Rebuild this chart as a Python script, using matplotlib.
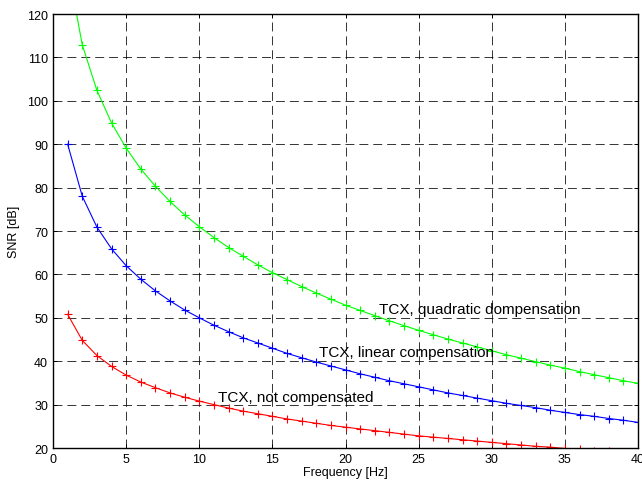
import matplotlib
matplotlib.use("Agg")
from matplotlib import pyplot as plt

plt.rcParams['font.family'] = ['Liberation Sans', 'DejaVu Sans']

freq = list(range(1, 41))

# TCX, not compensated
snr_none = [50.8, 44.8, 41.3, 38.8, 36.8, 35.2, 33.9, 32.7, 31.7, 30.8,
            30.0, 29.2, 28.5, 27.9, 27.3, 26.7, 26.2, 25.7, 25.2, 24.8,
            24.4, 24.0, 23.6, 23.2, 22.8, 22.5, 22.2, 21.9, 21.6, 21.3,
            21.0, 20.7, 20.4, 20.2, 19.9, 19.7, 19.4, 19.2, 19.0, 18.8]
# TCX, linear compensation
snr_lin = [90.0, 78.0, 70.9, 65.9, 62.0, 58.9, 56.2, 53.9, 51.8, 50.0,
           48.3, 46.8, 45.4, 44.2, 43.0, 41.8, 40.8, 39.8, 38.9, 38.0,
           37.1, 36.3, 35.5, 34.8, 34.1, 33.4, 32.7, 32.1, 31.5, 30.9,
           30.3, 29.8, 29.3, 28.7, 28.2, 27.7, 27.3, 26.8, 26.4, 25.9]
# TCX, quadratic compensation
snr_quad = [131.0, 112.9, 102.4, 94.9, 89.1, 84.3, 80.3, 76.8, 73.7, 71.0,
            68.5, 66.2, 64.2, 62.2, 60.4, 58.8, 57.2, 55.7, 54.3, 52.9,
            51.7, 50.5, 49.3, 48.2, 47.1, 46.1, 45.1, 44.2, 43.3, 42.4,
            41.5, 40.7, 39.9, 39.1, 38.4, 37.6, 36.9, 36.2, 35.5, 34.9]

labels = ['TCX, not compensated', 'TCX, linear compensation', 'TCX, quadratic dompensation']
label_pos = [(11.3, 31.7), (18.2, 42.2), (22.3, 52.0)]

fig = plt.figure(figsize=(6.42, 4.81), dpi=100)
ax = fig.add_axes([0.0826, 0.0665, 0.9112, 0.9023])

ax.plot(freq, snr_none, color=(1, 0, 0), lw=0.8, marker='+', ms=6, mew=0.8)
ax.plot(freq, snr_lin, color=(0, 0, 1), lw=0.8, marker='+', ms=6, mew=0.8)
ax.plot(freq, snr_quad, color=(0, 1, 0), lw=0.8, marker='+', ms=6, mew=0.8)

for txt, (x, y) in zip(labels, label_pos):
    ax.text(x, y, txt, fontsize=11, va='center', ha='left')

ax.set_xlim(0, 40)
ax.set_ylim(20, 120)
ax.set_xticks(range(0, 41, 5))
ax.set_yticks(range(20, 121, 10))
ax.grid(True, color='black', lw=0.7, linestyle=(0, (9.2, 5.1)), alpha=0.8)
ax.tick_params(direction='in', top=True, right=True, length=3, labelsize=9, width=0.7)
for s in ax.spines.values():
    s.set_linewidth(1.0)

ax.set_xlabel('Frequency [Hz]', fontsize=9, labelpad=1)
ax.set_ylabel('SNR [dB]', fontsize=9, labelpad=5)

fig.savefig('out.png', dpi=100)
